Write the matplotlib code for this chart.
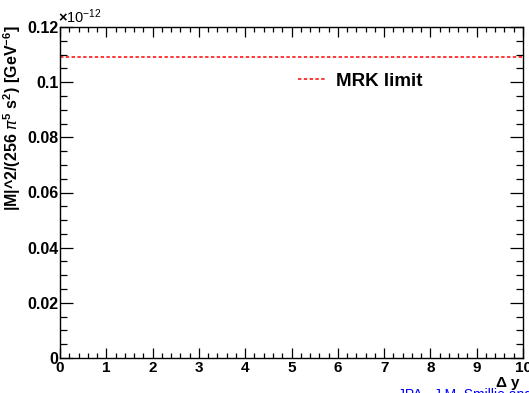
import matplotlib.pyplot as plt
import numpy as np

plt.rcParams['font.family'] = ['Liberation Sans', 'DejaVu Sans']
plt.rcParams['mathtext.fontset'] = 'custom'
plt.rcParams['mathtext.rm'] = 'Liberation Sans:bold'
plt.rcParams['mathtext.bf'] = 'Liberation Sans:bold'

# data
delta_y = [0, 10]
mrk_limit = [1.09e-13, 1.09e-13]
scale = 1e-12
x_ticks = [0, 1, 2, 3, 4, 5, 6, 7, 8, 9, 10]
y_ticks = [0, 0.02, 0.04, 0.06, 0.08, 0.1, 0.12]
y_tick_labels = ['0', '0.02', '0.04', '0.06', '0.08', '0.1', '0.12']

fig = plt.figure(figsize=(5.29, 3.93), dpi=100)
W, H = 529, 393
ax = fig.add_axes([60 / W, 1 - 358 / H, 463 / W, 331 / H])

ax.plot(delta_y, np.array(mrk_limit) / scale, color='red',
        linestyle=(0, (2.2, 1.6)), lw=1.1, label='MRK limit')

ax.set_xlim(0, 10)
ax.set_ylim(0, 0.12)
ax.set_xticks(x_ticks)
ax.set_xticklabels([str(t) for t in x_ticks], fontsize=11, fontweight='bold')
ax.set_yticks(y_ticks)
ax.set_yticklabels(y_tick_labels, fontsize=11.5, fontweight='bold')
ax.set_xticks(np.arange(0, 10.01, 0.2), minor=True)
ax.set_yticks(np.arange(0, 0.1201, 0.005), minor=True)

ax.tick_params(which='both', direction='in', top=True, right=True, width=0.9)
ax.tick_params(axis='x', which='major', length=7, pad=2)
ax.tick_params(axis='x', which='minor', length=3.5)
ax.tick_params(axis='y', which='major', length=9.5, pad=1)
ax.tick_params(axis='y', which='minor', length=5)
for s in ax.spines.values():
    s.set_linewidth(1.0)

leg = ax.legend(loc='upper left', bbox_to_anchor=(281 / W, 1 - 56 / H),
                bbox_transform=fig.transFigure, frameon=False,
                handlelength=1.45, handletextpad=0.6,
                prop={'weight': 'bold', 'size': 13.5})

fig.text(58 / W, 1 - 23 / H, r'$\times\mathregular{10^{-12}}$', fontsize=10.5,
         ha='left', va='baseline')
fig.text(12 / W, 1 - 25 / H,
         r'|M|^2/(256 $\pi^{\mathregular{5}}$ s$^{\mathregular{2}}$) [GeV$^{\mathregular{-6}}$]',
         rotation=90, ha='center', va='top', fontsize=11.5, fontweight='bold')
fig.text(521 / W, 1 - 387 / H, r'$\Delta$ y', ha='right', va='baseline',
         fontsize=11, fontweight='bold')
fig.text(398 / W, 1 - 388 / H, 'JPA - J.M. Smillie and A. Sabio Vera',
         color='blue', ha='left', va='top', fontsize=10)

fig.savefig('out.png', dpi=100)
